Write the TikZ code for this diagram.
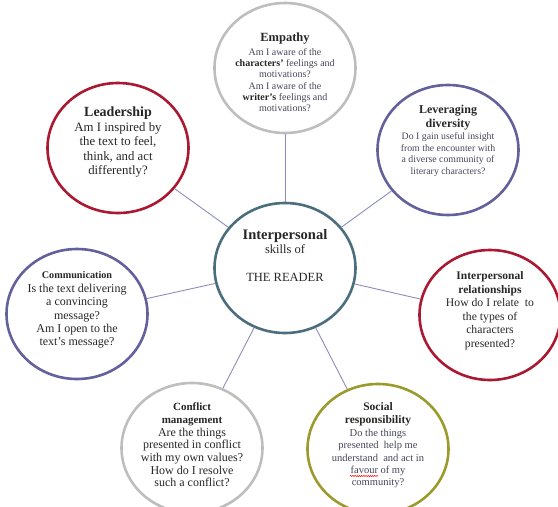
\documentclass[tikz,border=0pt]{standalone}
\usepackage{fontspec}
\setmainfont{Liberation Serif}
\usetikzlibrary{shapes.geometric,decorations.pathmorphing}

\definecolor{hubteal}{RGB}{75,110,125}
\definecolor{leadred}{RGB}{170,25,50}
\definecolor{diverseblue}{RGB}{100,96,156}
\definecolor{empgray}{RGB}{190,190,190}
\definecolor{socolive}{RGB}{155,155,45}
\definecolor{linkpurple}{RGB}{140,140,190}
\definecolor{softtext}{RGB}{70,70,90}

\tikzset{
  bubble/.style={ellipse, draw=#1, line width=2.6pt, minimum width=141pt,
    minimum height=130pt, inner sep=0pt},
  skilltext/.style={align=center, text=black!85},
  link/.style={draw=linkpurple, line width=0.9pt},
}

\begin{document}
\begin{tikzpicture}[x=1pt, y=-1pt]
      \useasboundingbox (0,0) rectangle (558,507);

      % Draw the circles
      \node[bubble=hubteal] (hub) at (285,268) {};
      \node[bubble=empgray] (empathy) at (285,68) {};
      \node[bubble=leadred] (leader) at (118,148) {};
      \node[bubble=diverseblue] (diverse) at (448,150) {};
      \node[bubble=diverseblue] (comm) at (77,314) {};
      \node[bubble=leadred] (relate) at (490,315) {};
      \node[bubble=empgray] (conflict) at (192,448) {};
      \node[bubble=socolive] (social) at (378,449) {};

      % Connect every skill to the reader
      \foreach \skill in {empathy, leader, diverse, comm, relate, conflict, social}
        \draw[link] (hub) -- (\skill);

      % Add the texts
      \node[skilltext, font=\fontsize{12.5}{14}\selectfont, yshift=12.5pt] (hub-txt) at (hub)
        {{\fontsize{14.5}{16}\selectfont\bfseries Interpersonal}\\
         skills of\\ \mbox{}\\ THE READER};
      \node[skilltext, text=softtext, font=\fontsize{10}{11.3}\selectfont, yshift=-4.5pt] (empathy-txt) at (empathy)
        {{\fontsize{12.5}{14}\selectfont\bfseries\color{black!85} Empathy}\\[2pt]
         Am I aware of the\\
         {\bfseries\color{black!85} characters’} feelings and\\
         motivations?\\
         Am I aware of the\\
         {\bfseries\color{black!85} writer’s} feelings and\\
         motivations?};
      \node[skilltext, font=\fontsize{12.8}{14.5}\selectfont, yshift=5.5pt] (leader-txt) at (leader)
        {{\fontsize{14}{15}\selectfont\bfseries Leadership}\\
         Am I inspired by\\
         the text to feel,\\
         think, and act\\
         differently?};
      \node[skilltext, text=softtext, font=\fontsize{9.8}{11.5}\selectfont, yshift=9.5pt] (diverse-txt) at (diverse)
        {{\fontsize{12}{14}\selectfont\bfseries\color{black!85} Leveraging}\\[2.5pt]
         {\fontsize{12}{14}\selectfont\bfseries\color{black!85} diversity}\\[1pt]
         Do I gain useful insight\\
         from the encounter with\\
         a diverse community of\\
         literary characters?};
      \node[skilltext, font=\fontsize{12}{13.5}\selectfont, yshift=4pt] (comm-txt) at (comm)
        {{\fontsize{10.2}{12}\selectfont\bfseries Communication}\\
         Is the text delivering\\
         a convincing\\
         message?\\
         Am I open to the\\
         text’s message?};
      \node[skilltext, font=\fontsize{11.7}{13.5}\selectfont, yshift=4pt] (relate-txt) at (relate)
        {{\fontsize{11.5}{13}\selectfont\bfseries Interpersonal}\\
         {\fontsize{11.5}{13}\selectfont\bfseries relationships}\\
         How do I relate~ to\\
         the types of\\
         characters\\
         presented?};
      \node[skilltext, font=\fontsize{12}{12.7}\selectfont, yshift=3pt] (conflict-txt) at (conflict)
        {{\fontsize{11}{12.7}\selectfont\bfseries Conflict}\\
         {\fontsize{11}{12.7}\selectfont\bfseries management}\\
         Are the things\\
         presented in conflict\\
         with my own values?\\
         How do I resolve\\
         such a conflict?};
      \node[skilltext, text=softtext, font=\fontsize{10.5}{12.3}\selectfont, yshift=3.5pt] (social-txt) at (social)
        {{\fontsize{11.5}{13}\selectfont\bfseries\color{black!85} Social}\\
         {\fontsize{11.5}{13}\selectfont\bfseries\color{black!85} responsibility}\\[1pt]
         Do the things\\
         presented~ help me\\
         understand~ and act in\\
         favour of my\\
         community?};

      % Spell-check wave under "favour"
      \draw[red, line width=0.5pt, decorate,
        decoration={snake, amplitude=0.6pt, segment length=2.2pt}]
        (350,476) -- (378,476);
\end{tikzpicture}
\end{document}
